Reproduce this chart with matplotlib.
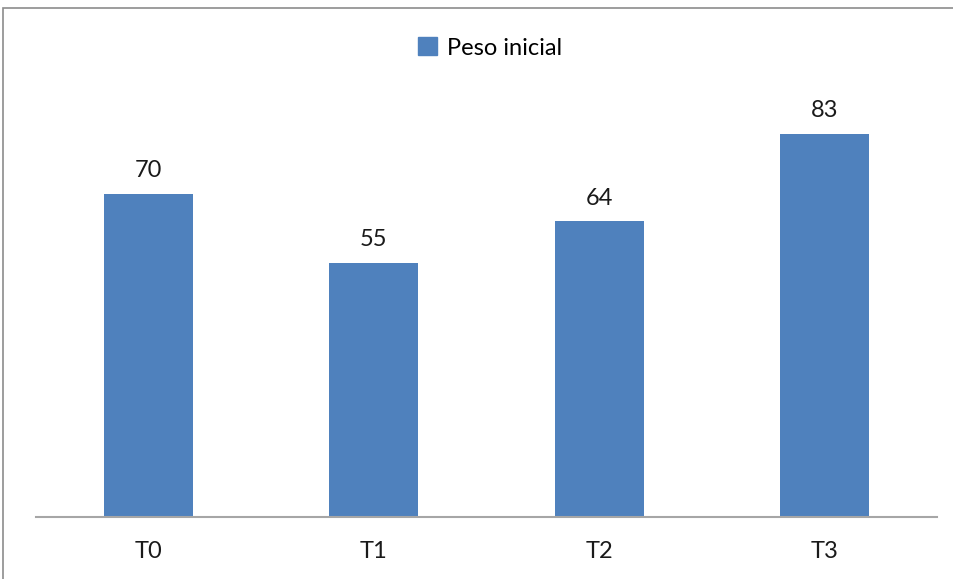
import matplotlib
matplotlib.use('Agg')
import matplotlib.pyplot as plt
from matplotlib.patches import Rectangle, Patch

# ── Data ────────────────────────────────────────────────
categories = ['T0', 'T1', 'T2', 'T3']
peso_inicial = [70, 55, 64, 83]
series_name = 'Peso inicial'

BAR_COLOR = '#4f81bd'
AXIS_GRAY = '#a6a6a6'
plt.rcParams['font.family'] = ['Lato', 'DejaVu Sans']

W, H = 954, 579
fig = plt.figure(figsize=(W / 100, H / 100), dpi=100)

# outer chart border (cut off at right/bottom like the reference)
fig.patches.append(Rectangle((3 / W, -0.05), 1.1, 1 - 8 / H + 0.05,
                             transform=fig.transFigure, fill=False,
                             edgecolor='#8c8c8c', linewidth=1.2))

# axes: baseline at y=517px, x from 36 to 937px
left, right = 36 / W, 937 / W
base = 1 - 517 / H
top = 1 - 55 / H
ax = fig.add_axes([left, base, right - left, top - base])

x = range(len(categories))
bars = ax.bar(x, peso_inicial, width=0.395, color=BAR_COLOR, zorder=2)
ax.set_xlim(-0.5, len(categories) - 0.5)
ax.set_ylim(0, 100)

for b, v in zip(bars, peso_inicial):
    ax.annotate(f'{v}', (b.get_x() + b.get_width() / 2, v),
                xytext=(0, 9), textcoords='offset points',
                ha='center', va='bottom', fontsize=17, color='#1a1a1a')

ax.set_xticks(list(x))
ax.set_xticklabels(categories, fontsize=17, color='#1a1a1a')
ax.tick_params(axis='x', length=0, pad=17)
ax.set_yticks([])
for s in ['top', 'right', 'left']:
    ax.spines[s].set_visible(False)
ax.spines['bottom'].set_color(AXIS_GRAY)
ax.spines['bottom'].set_linewidth(1.5)

fig.legend(handles=[Patch(color=BAR_COLOR, label=series_name)],
           loc='center', bbox_to_anchor=(490 / W, 1 - 48 / H),
           frameon=False, fontsize=17, handlelength=0.8, handleheight=0.8,
           handletextpad=0.4)

fig.savefig('out.png', dpi=100)
